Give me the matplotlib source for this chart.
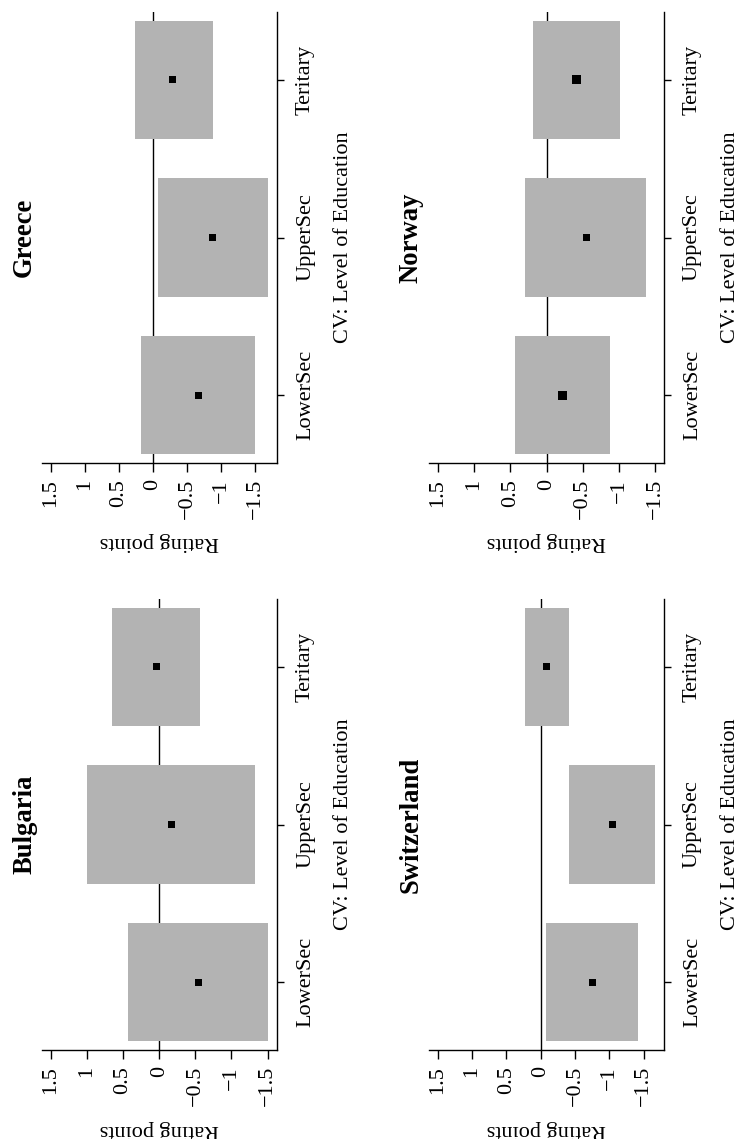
import matplotlib
matplotlib.use("Agg")
import matplotlib.pyplot as plt

plt.rcParams['font.family'] = ['Liberation Serif', 'DejaVu Serif']

# ---------------- data ----------------
countries = ["Greece", "Norway", "Bulgaria", "Switzerland"]
categories = ["LowerSec", "UpperSec", "Teritary"]
value_ticks = [1.5, 1, 0.5, 0, -0.5, -1, -1.5]
value_tick_labels = ["1.5", "1", "0.5", "0", "\u22120.5", "\u22121", "\u22121.5"]

greece_low = [-1.50, -1.69, -0.88]
greece_high = [0.18, -0.07, 0.26]
greece_est = [-0.66, -0.87, -0.29]
greece_size = [5.0, 5.0, 5.0]

norway_low = [-0.87, -1.37, -1.01]
norway_high = [0.44, 0.29, 0.19]
norway_est = [-0.22, -0.55, -0.41]
norway_size = [6.5, 5.0, 6.5]

bulgaria_low = [-1.51, -1.33, -0.57]
bulgaria_high = [0.43, 1.00, 0.65]
bulgaria_est = [-0.54, -0.17, 0.03]
bulgaria_size = [5.0, 5.0, 5.0]

switzerland_low = [-1.42, -1.67, -0.41]
switzerland_high = [-0.08, -0.41, 0.23]
switzerland_est = [-0.75, -1.04, -0.09]
switzerland_size = [5.0, 5.0, 5.0]

x_label = "CV: Level of Education"
y_label = "Rating points"

panels = [
    (countries[0], greece_low, greece_high, greece_est, greece_size),
    (countries[1], norway_low, norway_high, norway_est, norway_size),
    (countries[2], bulgaria_low, bulgaria_high, bulgaria_est, bulgaria_size),
    (countries[3], switzerland_low, switzerland_high, switzerland_est, switzerland_size),
]

# ---------------- layout (pixels) ----------------
W, H = 742, 1139
DPI = 100
PT = 72.0 / DPI
boxes_px = [
    (42, 12, 235, 451),    # Greece  (left, top, width, height)
    (429, 12, 235, 451),   # Norway
    (42, 599, 235, 451),   # Bulgaria
    (429, 599, 235, 451),  # Switzerland
]

fig = plt.figure(figsize=(W / DPI, H / DPI), dpi=DPI)
fig.patch.set_facecolor("white")

FS = 16
FS_TITLE = 19.2
box_color = "#B3B3B3"

for (name, low, high, est, size), (l, t, w, h) in zip(panels, boxes_px):
    ax = fig.add_axes([l / W, 1 - (t + h) / H, w / W, h / H])
    pos = list(range(1, len(categories) + 1))

    ax.axvline(0, color="black", lw=1.0, zorder=1)
    widths = [hi - lo for lo, hi in zip(low, high)]
    ax.barh(pos, widths, left=low, height=0.75, color=box_color,
            edgecolor="none", zorder=2)
    ax.scatter(est, pos, s=[(sz) ** 2 for sz in size], marker="s",
               color="black", zorder=3, linewidths=0)

    lo = min(-1.5, min(low))
    hi = max(1.5, max(high))
    pad = 0.04 * (hi - lo)
    ax.set_xlim(hi + pad, lo - pad)
    ax.set_ylim(0.57, 3.43)

    for sp in ["top", "left"]:
        ax.spines[sp].set_visible(False)
    for sp in ["bottom", "right"]:
        ax.spines[sp].set_linewidth(1.0)

    ax.set_xticks(value_ticks)
    ax.set_xticklabels(value_tick_labels, fontsize=FS, rotation=90,
                       ha="center", va="top")
    ax.tick_params(axis="x", direction="out", length=9 * PT, width=1.0,
                   pad=7 * PT)

    ax.yaxis.tick_right()
    ax.set_yticks(pos)
    ax.set_yticklabels(categories, fontsize=FS, rotation=90,
                       ha="left", va="center")
    ax.tick_params(axis="y", direction="out", length=7 * PT, width=1.0,
                   pad=12 * PT)

    # title (rotated, on the left of the panel)
    ax.annotate(name, xy=(0, 0.5), xycoords="axes fraction",
                xytext=(-30 * PT, 0), textcoords="offset points",
                rotation=90, ha="left", va="center",
                fontsize=FS_TITLE, fontweight="bold")
    # category axis label (right side)
    ax.annotate(x_label, xy=(1, 0.5), xycoords="axes fraction",
                xytext=(57 * PT, 0), textcoords="offset points",
                rotation=90, ha="left", va="center", fontsize=FS)
    # value axis label (below, upside down)
    ax.annotate(y_label, xy=(0.5, 0), xycoords="axes fraction",
                xytext=(0, -79 * PT), textcoords="offset points",
                rotation=180, ha="center", va="center", fontsize=FS)

fig.savefig("out.png", dpi=DPI)
